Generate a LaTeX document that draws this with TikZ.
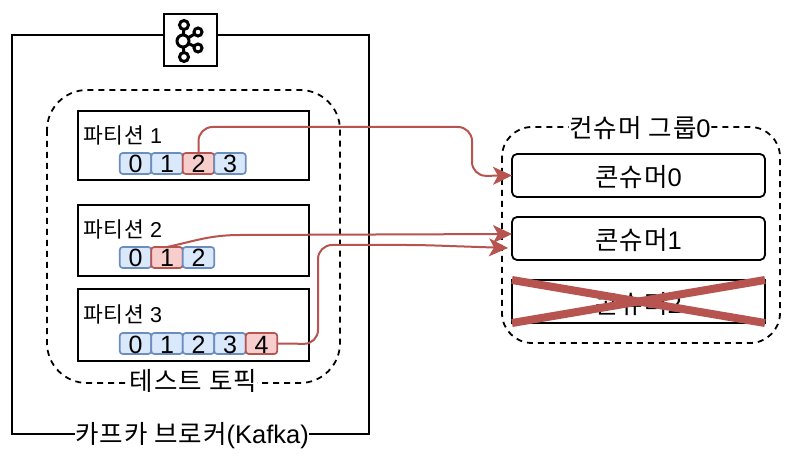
\documentclass[tikz,border=0pt]{standalone}
\usepackage{fontspec}
\setmainfont{Liberation Sans}
\newfontfamily\krfont[Scale=1.0,LetterSpace=4]{Noto Sans CJK KR}
\usetikzlibrary{arrows.meta}
\definecolor{redline}{HTML}{B85450}
\definecolor{redfill}{HTML}{F8CECC}
\definecolor{bluefill}{HTML}{DAE8FC}
\definecolor{blueline}{HTML}{6C8EBF}
\newcommand{\kr}[1]{{\krfont #1}}
\tikzset{
  x=1pt,y=-1pt,
  px/.style={inner sep=0pt,outer sep=0pt},
  outerbox/.style={draw=black,line width=2pt,fill=white,px},
  partbox/.style={draw=black,line width=2pt,fill=none,px,minimum width=231pt},
  dashbox/.style={draw=black,line width=1.8pt,dash pattern=on 6pt off 5pt,rounded corners=#1},
  cell/.style={draw=blueline,fill=bluefill,line width=1.7pt,rounded corners=3pt,px,minimum width=31.5pt,minimum height=21pt,text height=19.5pt,text depth=0.5pt,font=\fontsize{25}{25}\selectfont},
  hot/.style={cell,draw=redline,fill=redfill},
  consumer/.style={draw=black,line width=1.8pt,rounded corners=5pt,fill=white,px,minimum width=253pt,minimum height=43pt,text height=23.5pt,text depth=0.5pt,font=\fontsize{25.5}{25.5}\selectfont},
  wlab/.style={px,anchor=base,fill=white,font=\fontsize{25.5}{25.5}\selectfont},
  plab/.style={px,anchor=base west,font=\fontsize{21.5}{21.5}\selectfont},
  flow/.style={draw=redline,line width=2pt,rounded corners=14pt,-{Stealth[length=19pt,width=18pt,inset=5pt]}},
  flowc/.style={draw=redline,line width=2pt,-{Stealth[length=19pt,width=18pt,inset=5pt]}},
  cross/.style={draw=redline,line width=8pt},
  ring/.style={circle,draw=black,line width=3pt,px,fill=white},
}
\begin{document}
\begin{tikzpicture}
\useasboundingbox (0,0) rectangle (795,462);
\fill[white] (0,0) rectangle (795,462);
% broker
\draw[black,line width=2pt] (12,35) rectangle (369,434);
\node[wlab] (broker) at (192,443) {\kr{카프카 브로커}(Kafka)};
% icon
\node[outerbox,minimum width=53pt,minimum height=52pt] (icon) at (190.5,40) {};
\draw[black,line width=3pt] (184,25)--(183,41)--(184,57) (183,41)--(198,32) (183,41)--(198,48);
\node[ring,minimum size=9pt] (k1) at (184,25) {};
\node[ring,minimum size=12pt] (k2) at (183,41) {};
\node[ring,minimum size=8pt] (k3) at (198,32) {};
\node[ring,minimum size=8pt] (k4) at (198,48) {};
\node[ring,minimum size=9pt] (k5) at (184,57) {};
% topic
\draw[dashbox=40pt] (47,90) rectangle (340,383);
\node[wlab] (topic) at (193.5,390) {\kr{테스트 토픽}};
% partitions
\node[partbox,minimum height=69pt] (p1) at (193.5,145.5) {};
\node[partbox,minimum height=71pt] (p2) at (193.5,240.5) {};
\node[partbox,minimum height=72pt] (p3) at (193.5,325) {};
\node[plab] (l1) at (83,144) {\kr{파티션} 1};
\node[plab] (l2) at (83,238) {\kr{파티션} 2};
\node[plab] (l3) at (83,323) {\kr{파티션} 3};
% cells
\node[cell] (a0) at (135.5,163.5) {0};
\node[cell] (a1) at (167,163.5) {1};
\node[hot]  (a2) at (198.5,163.5) {2};
\node[cell] (a3) at (230,163.5) {3};
\node[cell] (b0) at (135.5,257.5) {0};
\node[hot]  (b1) at (167,257.5) {1};
\node[cell] (b2) at (198.5,257.5) {2};
\node[cell] (c0) at (135.5,343.5) {0};
\node[cell] (c1) at (167,343.5) {1};
\node[cell] (c2) at (198.5,343.5) {2};
\node[cell] (c3) at (230,343.5) {3};
\node[hot]  (c4) at (261.5,343.5) {4};
% group
\draw[dashbox=30pt] (502,127) rectangle (780,343);
\node[wlab] (group) at (640,138) {\kr{컨슈머 그룹}0};
\node[consumer] (m0) at (638.5,175.5) {\kr{콘슈머}0};
\node[consumer] (m1) at (638.5,238.5) {\kr{콘슈머}1};
\node[consumer,rounded corners=0pt] (m2) at (638.5,301.5) {\kr{콘슈머}2};
% connectors
\coordinate (e2) at (512,234);
\coordinate (e3) at (508,248);
\draw[flow] (a2.north) -- (a2.north |- 0,127) -- (472,127) -- (472,176) -- (m0.west);
\draw[flowc] (b1.north) .. controls (195,241) and (210,235) .. (240,235) -- (e2);
\draw[flow] (c4.east) -- (318,344) -- (318,245) -- (420,245) -- (e3);
% cross
\draw[cross] (m2.north west) -- (m2.south east);
\draw[cross] (m2.south west) -- (m2.north east);
\end{tikzpicture}
\end{document}
